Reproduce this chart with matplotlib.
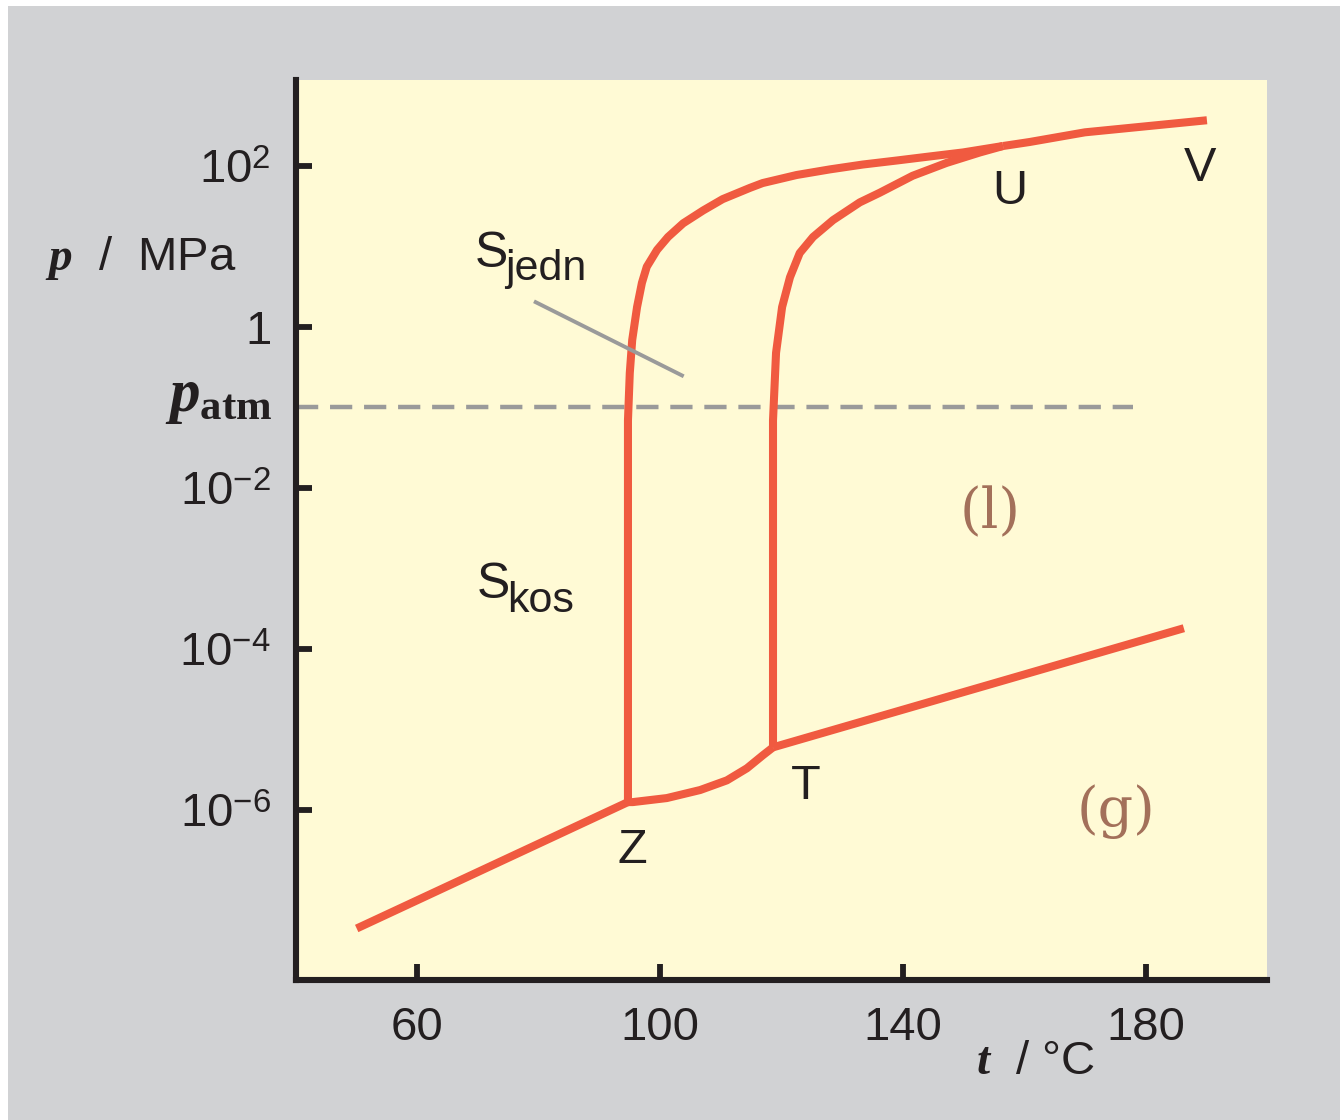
import numpy as np
import matplotlib.pyplot as plt
from matplotlib.patches import Rectangle
from matplotlib.ticker import FixedLocator, NullLocator

# sulfur phase diagram
# t in degC, lp = log10(p / MPa)
t_gas_kos = [50.0, 94.7]
lp_gas_kos = [-7.47, -5.90]

t_gas_jedn = [94.7, 95.5, 101.1, 106.6, 111.0, 114.3, 116.9, 118.6]
lp_gas_jedn = [-5.90, -5.90, -5.85, -5.75, -5.63, -5.48, -5.32, -5.22]

t_gas_liq = [118.6, 186.3]
lp_gas_liq = [-5.22, -3.74]

t_kos_jedn = [94.7, 94.7, 95.0, 95.4, 96.2, 97.0, 97.8, 99.5, 101.3, 103.8,
              107.1, 110.3, 114.8, 116.9, 122.5, 128.0, 133.4, 139.0, 144.4,
              149.9, 156.5]
lp_kos_jedn = [-5.90, -1.16, -0.57, -0.16, 0.25, 0.55, 0.75, 0.96, 1.12, 1.29,
               1.45, 1.59, 1.73, 1.79, 1.89, 1.96, 2.02, 2.07, 2.12,
               2.17, 2.25]

t_jedn_liq = [118.6, 118.6, 119.1, 120.1, 121.4, 123.0, 125.2, 128.5, 132.9,
              136.2, 141.6, 147.2, 152.7, 156.5]
lp_jedn_liq = [-5.22, -1.16, -0.32, 0.25, 0.62, 0.92, 1.12, 1.33, 1.55,
               1.67, 1.88, 2.04, 2.17, 2.25]

t_kos_liq = [156.5, 160.9, 170.0, 190.1]
lp_kos_liq = [2.25, 2.30, 2.42, 2.57]

p_atm = 0.101325
t_atm_end = 178.0

xticks = [60, 100, 140, 180]
yticks = [1e2, 1, 1e-2, 1e-4, 1e-6]
ytick_labels = [r'$10^{2}$', r'$1$', r'$10^{-2}$', r'$10^{-4}$', r'$10^{-6}$']

RED = '#f05a40'
BROWN = '#a3705a'
GREY = '#9a9a9a'
DARK = '#231f20'

plt.rcParams['font.family'] = ['Liberation Sans', 'DejaVu Sans']
plt.rcParams['mathtext.fontset'] = 'custom'
plt.rcParams['mathtext.rm'] = 'Liberation Sans'
plt.rcParams['mathtext.it'] = 'Liberation Serif:italic:bold'
plt.rcParams['mathtext.bf'] = 'Liberation Serif:bold'
plt.rcParams['lines.scale_dashes'] = False

fig = plt.figure(figsize=(13.4, 11.2), dpi=100, facecolor='white')
fig.patches.append(Rectangle((8 / 1340, 0), 1, 1 - 6 / 1120, transform=fig.transFigure,
                             facecolor='#d1d2d4', edgecolor='none', zorder=-10))
ax = fig.add_axes([296 / 1340, 1 - 980 / 1120, 971 / 1340, 900 / 1120])
ax.set_facecolor('#fffad5')


def curve(t, lp):
    ax.plot(t, 10.0 ** np.array(lp), color=RED, lw=5.8, solid_joinstyle='round',
            solid_capstyle='butt', zorder=3)


curve(t_gas_kos, lp_gas_kos)
curve(t_gas_jedn, lp_gas_jedn)
curve(t_gas_liq, lp_gas_liq)
curve(t_kos_jedn, lp_kos_jedn)
curve(t_jedn_liq, lp_jedn_liq)
curve(t_kos_liq, lp_kos_liq)

# atmospheric pressure
ax.plot([40, t_atm_end], [p_atm, p_atm], color=GREY, lw=3.2, dashes=(16, 8.5), zorder=2)
# pointer to the S_jedn region
ax.plot([79.5, 103.6], [10 ** 0.31, 10 ** -0.60], color=GREY, lw=2.8, zorder=4)

ax.set_yscale('log')
ax.set_xlim(40, 200)
ax.set_ylim(10 ** -8.11, 10 ** 3.07)

ax.xaxis.set_major_locator(FixedLocator(xticks))
ax.yaxis.set_major_locator(FixedLocator(yticks))
ax.yaxis.set_minor_locator(NullLocator())
ax.set_yticklabels(ytick_labels)
ax.tick_params(direction='in', length=11.5, width=4.2, color=DARK, labelsize=34,
               labelcolor=DARK)
ax.tick_params(axis='x', pad=19)
ax.tick_params(axis='y', pad=18)
for s in ['top', 'right']:
    ax.spines[s].set_visible(False)
for s in ['left', 'bottom']:
    ax.spines[s].set_linewidth(4.4)
    ax.spines[s].set_color(DARK)

# point labels
for name, t, lp in [('Z', 95.4, -6.50), ('T', 124.0, -5.71), ('U', 157.6, 1.68),
                    ('V', 188.9, 1.975)]:
    ax.text(t, 10 ** lp, name, fontsize=35, color=DARK, ha='center', va='center')

ax.text(154.3, 10 ** -2.31, '(l)', family='DejaVu Serif', fontsize=40, color=BROWN,
        ha='center', va='center')
ax.text(175.1, 10 ** -6.02, '(g)', family='DejaVu Serif', fontsize=40, color=BROWN,
        ha='center', va='center')

# S with subscripts
for sub, t, lp in [('jedn', 69.5, 0.745), ('kos', 69.8, -3.37)]:
    ax.text(t, 10 ** lp, 'S', fontsize=36, color=DARK, ha='left', va='baseline')
    ax.annotate(sub, xy=(t, 10 ** lp), xytext=(21.5, -9.5), textcoords='offset points',
                fontsize=31, color=DARK, ha='left', va='baseline')

# axis labels
fig.text(45 / 1340, 1 - 258 / 1120, r'$p$  /  MPa', fontsize=34, color=DARK,
         ha='left', va='center')
fig.text(272 / 1340, 1 - 397 / 1120, r'$p_{\mathbf{atm}}$', fontsize=44, color=DARK,
         ha='right', va='center')
fig.text(1035 / 1340, 1 - 1062 / 1120, r'$t$  / °C', fontsize=34, color=DARK,
         ha='center', va='center')

fig.savefig('out.png', dpi=100)
